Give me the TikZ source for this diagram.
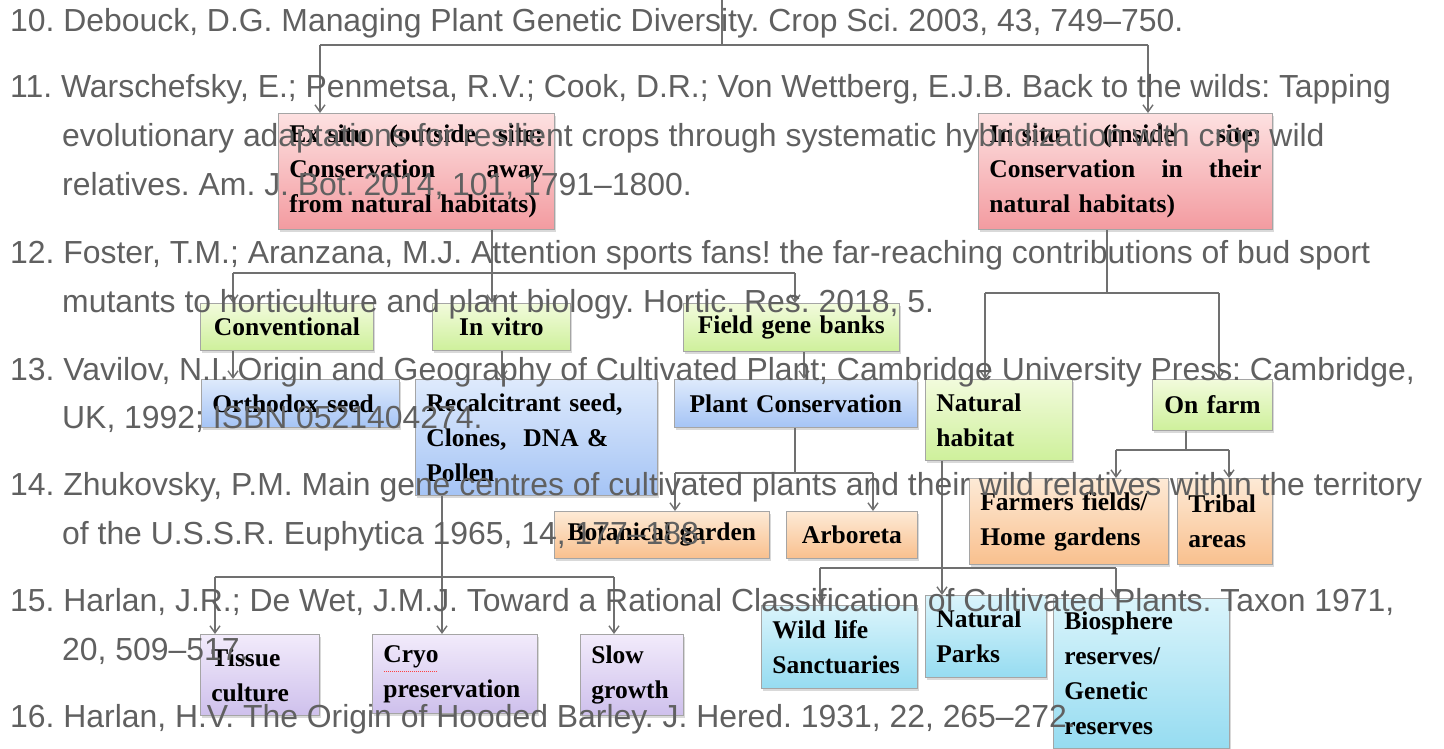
\documentclass[tikz,border=0pt]{standalone}
\usepackage{fontspec}
\setmainfont{Liberation Serif}
\newfontfamily\reffont{Liberation Sans}
\usetikzlibrary{arrows.meta,shadows}
\frenchspacing

\definecolor{refgray}{RGB}{96,96,96}
\definecolor{linkgray}{RGB}{112,112,112}
\definecolor{boxedge}{RGB}{165,165,165}
\definecolor{redtop}{RGB}{253,225,225}
\definecolor{redbot}{RGB}{243,155,160}
\definecolor{greentop}{RGB}{242,251,220}
\definecolor{greenbot}{RGB}{206,240,155}
\definecolor{bluetop}{RGB}{222,234,252}
\definecolor{bluebot}{RGB}{165,196,245}
\definecolor{orangetop}{RGB}{253,234,214}
\definecolor{orangebot}{RGB}{249,192,142}
\definecolor{purpletop}{RGB}{242,235,251}
\definecolor{purplebot}{RGB}{206,192,236}
\definecolor{cyantop}{RGB}{218,244,251}
\definecolor{cyanbot}{RGB}{150,220,241}

\tikzset{
  cbox/.style={draw=boxedge, line width=0.8pt, anchor=north west,
    inner xsep=11pt, inner ysep=0pt, align=left, text=black,
    font=\bfseries\fontsize{25.5}{35}\selectfont,
    drop shadow={shadow xshift=1.5pt, shadow yshift=-2.5pt, opacity=0.3}},
  redbox/.style={cbox, top color=redtop, bottom color=redbot},
  greenbox/.style={cbox, top color=greentop, bottom color=greenbot},
  bluebox/.style={cbox, top color=bluetop, bottom color=bluebot},
  orangebox/.style={cbox, top color=orangetop, bottom color=orangebot},
  purplebox/.style={cbox, top color=purpletop, bottom color=purplebot},
  cyanbox/.style={cbox, top color=cyantop, bottom color=cyanbot},
  link/.style={draw=linkgray, line width=1.4pt},
  arr/.style={link, -{Straight Barb[length=7pt,width=10pt]}},
  reftext/.style={anchor=base west, inner sep=0pt, text=refgray,
    font=\reffont\fontsize{31.9}{38}\selectfont},
}

\begin{document}
\begin{tikzpicture}[x=1pt,y=-1pt]
\useasboundingbox (0,0) rectangle (1444,749);

% boxes
\node[redbox, text width=254pt, minimum height=116pt] (exsitu) at (278,113)
  {Ex situ\hfill(outside\hfill site:\\Conservation\hfill away\\from natural habitats)};
\node[redbox, text width=272pt, minimum height=116pt] (insitu) at (978,113)
  {In situ\hfill(inside\hfill site:\\Conservation\hfill in\hfill their\\natural habitats)};

\node[greenbox, align=center, text width=151pt, minimum height=47pt] (conv) at (200,303) {Conventional};
\node[greenbox, align=center, text width=116pt, minimum height=47pt] (invitro) at (432,303) {In vitro};
\node[greenbox, align=center, text width=194pt, minimum height=48pt] (field) at (683,303) {Field gene banks};

\node[bluebox, text width=176pt, minimum height=48pt] (orth) at (201,379) {Orthodox seed};
\node[bluebox, text width=220pt, minimum height=116pt] (recal) at (415,379) {Recalcitrant seed,\\Clones,\ \ DNA \&\\Pollen};
\node[bluebox, align=center, text width=221pt, minimum height=48pt] (plant) at (674,379) {Plant Conservation};
\node[greenbox, text width=125pt, minimum height=81pt] (nathab) at (925,379) {Natural\\habitat};
\node[greenbox, align=center, text width=98pt, minimum height=51pt] (onfarm) at (1152,379) {On farm};

\node[orangebox, align=center, text width=193pt, minimum height=47pt] (botan) at (554,511) {Botanical garden};
\node[orangebox, align=center, text width=109pt, minimum height=47pt] (arbor) at (786,511) {Arboreta};
\node[orangebox, text width=177pt, minimum height=86pt] (farmers) at (969,478) {Farmers fields/\\Home gardens};
\node[orangebox, text width=73pt, minimum height=86pt] (tribal) at (1177,478) {Tribal\\areas};

\node[purplebox, text width=97pt, minimum height=81pt] (tissue) at (200,634) {Tissue\\culture};
\node[purplebox, text width=143pt, minimum height=79pt] (cryo) at (372,634) {Cryo\\preservation};
\node[purplebox, text width=81pt, minimum height=81pt] (slow) at (580,634) {Slow\\growth};
\draw[red!75, densely dotted, line width=1pt] ([xshift=12pt,yshift=-37pt]cryo.north west) -- ([xshift=66pt,yshift=-37pt]cryo.north west);

\node[cyanbox, text width=134pt, minimum height=83pt] (wild) at (761,605) {Wild life\\Sanctuaries};
\node[cyanbox, text width=99pt, minimum height=82pt] (natparks) at (925,595) {Natural\\Parks};
\node[cyanbox, text width=154pt, minimum height=150pt] (bio) at (1053,598) {Biosphere\\reserves/\\Genetic\\reserves};

% root
\coordinate (top) at (722,0);
\coordinate (r0) at (722,45);
\coordinate (r1) at (320,45);
\coordinate (r2) at (1148,45);
\draw[link] (top) -- (r0);
\draw[link] (r1) -- (r2);
\draw[arr] (r1) -- (r1 |- exsitu.north);
\draw[arr] (r2) -- (r2 |- insitu.north);

% ex situ
\coordinate (e0) at (492,273);
\coordinate (e1) at (233,273);
\coordinate (e2) at (795,273);
\draw[link] (e0 |- exsitu.south) -- (e0);
\draw[link] (e1) -- (e2);
\draw[arr] (e1) -- (e1 |- conv.north);
\draw[arr] (e0) -- (e0 |- invitro.north);
\draw[arr] (e2) -- (e2 |- field.north);

\coordinate (v0) at (502,350);
\coordinate (f0) at (804,351);
\draw[arr] (e1 |- conv.south) -- (e1 |- orth.north);
\draw[arr] (v0 |- invitro.south) -- (v0 |- recal.north);
\draw[arr] (f0 |- field.south) -- (f0 |- plant.north);

% plant conservation
\coordinate (p0) at (795,473);
\coordinate (p1) at (675,473);
\coordinate (p2) at (873,473);
\draw[link] (p0 |- plant.south) -- (p0);
\draw[link] (p1) -- (p2);
\draw[arr] (p1) -- (p1 |- botan.north);
\draw[arr] (p2) -- (p2 |- arbor.north);

% recalcitrant
\coordinate (k0) at (442,577);
\coordinate (k1) at (215,577);
\coordinate (k2) at (614,577);
\draw[link] (k0 |- recal.south) -- (k0);
\draw[link] (k1) -- (k2);
\draw[arr] (k1) -- (k1 |- tissue.north);
\draw[arr] (k0) -- (k0 |- cryo.north);
\draw[arr] (k2) -- (k2 |- slow.north);

% in situ
\coordinate (i0) at (1107,293);
\coordinate (i1) at (985,293);
\coordinate (i2) at (1219,293);
\draw[link] (i0 |- insitu.south) -- (i0);
\draw[link] (i1) -- (i2);
\draw[arr] (i1) -- (i1 |- nathab.north);
\draw[arr] (i2) -- (i2 |- onfarm.north);

% on farm
\coordinate (o0) at (1186,450);
\coordinate (o1) at (1116,450);
\coordinate (o2) at (1229,450);
\draw[link] (o0 |- onfarm.south) -- (o0);
\draw[link] (o1) -- (o2);
\draw[arr] (o1) -- (o1 |- farmers.north);
\draw[arr] (o2) -- (o2 |- tribal.north);

% natural habitat
\coordinate (n0) at (942,568);
\coordinate (n1) at (820,568);
\coordinate (n2) at (1116,568);
\draw[link] (n0 |- nathab.south) -- (n0);
\draw[link] (n1) -- (n2);
\draw[arr] (n1) -- (n1 |- wild.north);
\draw[arr] (n0) -- (n0 |- natparks.north);
\draw[arr] (n2) -- (n2 |- bio.north);

% reference list
\node[reftext] (ref10) at (10,32) {10. Debouck, D.G. Managing Plant Genetic Diversity. Crop Sci. 2003, 43, 749–750.};
\node[reftext] (ref11a) at (10,98) {11. Warschefsky, E.; Penmetsa, R.V.; Cook, D.R.; Von Wettberg, E.J.B. Back to the wilds: Tapping};
\node[reftext] (ref11b) at (62,147) {evolutionary adaptations for resilient crops through systematic hybridization with crop wild};
\node[reftext] (ref11c) at (62,196) {relatives. Am. J. Bot. 2014, 101, 1791–1800.};
\node[reftext] (ref12a) at (10,263) {12. Foster, T.M.; Aranzana, M.J. Attention sports fans! the far-reaching contributions of bud sport};
\node[reftext] (ref12b) at (62,312) {mutants to horticulture and plant biology. Hortic. Res. 2018, 5.};
\node[reftext] (ref13a) at (10,380) {13. Vavilov, N.I. Origin and Geography of Cultivated Plant; Cambridge University Press: Cambridge,};
\node[reftext] (ref13b) at (62,428) {UK, 1992; ISBN 0521404274.};
\node[reftext] (ref14a) at (10,495) {14. Zhukovsky, P.M. Main gene centres of cultivated plants and their wild relatives within the territory};
\node[reftext] (ref14b) at (62,544) {of the U.S.S.R. Euphytica 1965, 14, 177–188.};
\node[reftext] (ref15a) at (10,611) {15. Harlan, J.R.; De Wet, J.M.J. Toward a Rational Classification of Cultivated Plants. Taxon 1971,};
\node[reftext] (ref15b) at (62,660) {20, 509–517.};
\node[reftext] (ref16) at (10,727) {16. Harlan, H.V. The Origin of Hooded Barley. J. Hered. 1931, 22, 265–272.};

\end{tikzpicture}
\end{document}
